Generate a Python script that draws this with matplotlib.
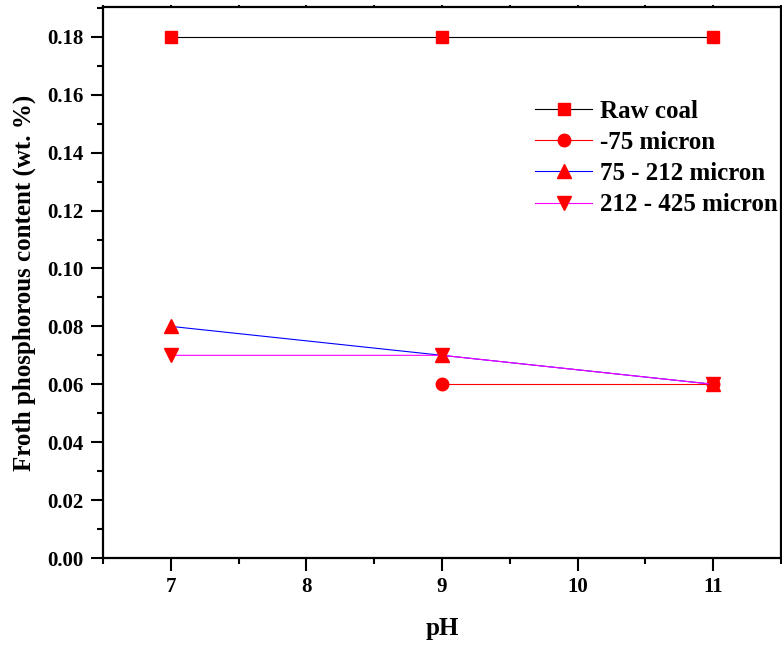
import matplotlib
matplotlib.use("Agg")
import matplotlib.pyplot as plt
from matplotlib.ticker import MultipleLocator, FixedLocator

plt.rcParams['font.family'] = ['Liberation Serif', 'DejaVu Serif']
plt.rcParams['font.weight'] = 'bold'

ph = [7, 9, 11]
raw_coal = [0.18, 0.18, 0.18]
ph_fine = [9, 11]
minus_75 = [0.06, 0.06]
size_75_212 = [0.08, 0.07, 0.06]
size_212_425 = [0.07, 0.07, 0.06]
x_ticks = [7, 8, 9, 10, 11]

fig = plt.figure(figsize=(7.82, 6.45), dpi=100)
ax = fig.add_axes([103/782, 1 - 558/645, 678/782, 551/645])

ax.plot(ph, raw_coal, color='black', lw=0.8, marker='s', ms=8.5,
        mfc='red', mec='red', label='Raw coal')
ax.plot(ph_fine, minus_75, color='red', lw=0.8, marker='o', ms=9,
        mfc='red', mec='red', label='-75 micron')
ax.plot(ph, size_75_212, color='blue', lw=0.8, marker='^', ms=10,
        mfc='red', mec='red', label='75 - 212 micron')
ax.plot(ph, size_212_425, color='magenta', lw=0.8, marker='v', ms=10,
        mfc='red', mec='red', label='212 - 425 micron')

ax.set_xlim(6.5, 11.5)
ax.set_xticks(x_ticks)
ax.xaxis.set_minor_locator(FixedLocator([6.5, 7.5, 8.5, 9.5, 10.5, 11.5]))
ax.set_yticks([i * 0.02 for i in range(10)])
ax.set_yticklabels([f"{i * 0.02:.2f}" for i in range(10)])
ax.yaxis.set_minor_locator(MultipleLocator(0.01))
ax.set_ylim(0, 0.1903)

for s in ax.spines.values():
    s.set_linewidth(1.6)
ax.tick_params(axis='both', which='major', direction='out', length=9, width=1.5,
               labelsize=15, pad=5)
ax.tick_params(axis='both', which='minor', direction='out', length=4.5, width=1.5)
ax.tick_params(axis='x', which='both', top=True)
for t in ax.xaxis.get_major_ticks() + ax.xaxis.get_minor_ticks():
    t.tick2line.set_markersize(1.5)
for lbl in ax.get_xticklabels() + ax.get_yticklabels():
    lbl.set_fontweight('bold')

ax.set_xlabel('pH', fontsize=18, fontweight='bold', labelpad=14)
ax.set_ylabel('Froth phosphorous content (wt. %)', fontsize=18,
              fontweight='bold', labelpad=8)

leg = ax.legend(loc='upper left', bbox_to_anchor=(0.637, 0.832), frameon=False,
                prop={'family': 'Liberation Serif', 'weight': 'bold', 'size': 18},
                handlelength=2.3, handletextpad=0.3, labelspacing=0.33,
                borderaxespad=0, borderpad=0)

fig.savefig('out.png', dpi=100)
